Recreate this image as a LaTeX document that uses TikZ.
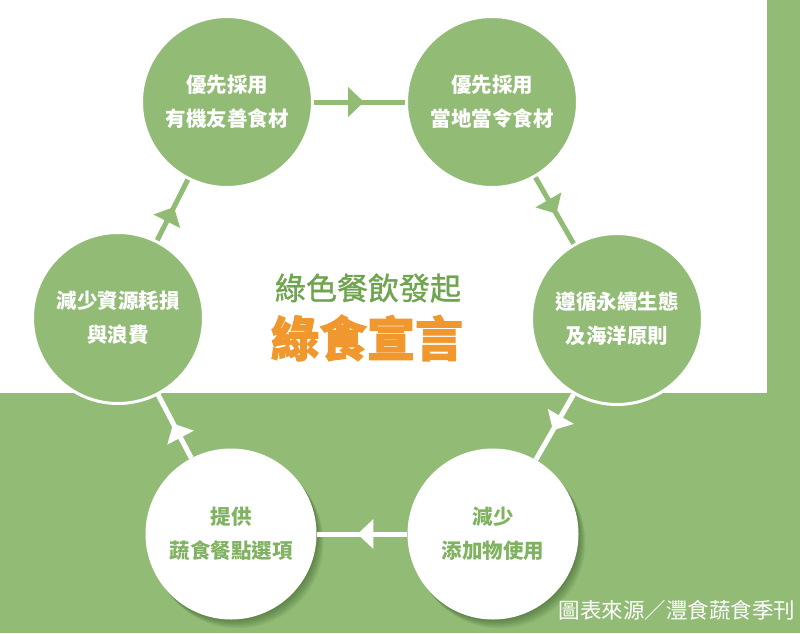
\documentclass[tikz,border=0pt]{standalone}
\usepackage{fontspec}
\setmainfont{Noto Sans CJK TC}
\newfontfamily\titlefont{Noto Sans CJK TC}[FakeBold=1.2]
\newfontfamily\headfont{Noto Sans CJK TC}[FakeBold=2]
\usetikzlibrary{arrows.meta,decorations.markings}
\definecolor{band}{RGB}{146,188,118}
\definecolor{circ}{RGB}{146,188,118}
\definecolor{titlegreen}{RGB}{112,165,80}
\definecolor{orng}{RGB}{240,152,45}
\definecolor{ctxt}{RGB}{128,178,98}
\definecolor{shad}{RGB}{35,65,20}
\begin{document}
\begin{tikzpicture}[x=1pt,y=-1pt,
  ctext/.style={font=\bfseries\fontsize{20.5}{34}\selectfont,align=center},
  gcirc/.style={circle,fill=circ,draw=white,line width=3pt,minimum size=171pt,inner sep=0pt,text=white,ctext},
  wcirc/.style={circle,fill=white,minimum size=171pt,inner sep=0pt,text=ctxt,ctext},
  conn/.style={line width=5pt,postaction={decorate},
    decoration={markings,mark=at position 0.55 with {\arrow{Triangle[length=16pt,width=29pt]}}}},
]
\useasboundingbox (0,0) rectangle (800,633);
\fill[white] (0,0) rectangle (800,633);
% green band
\fill[band] (0,393) rectangle (800,633);
\fill[band] (767,0) rectangle (800,393);

% shadows of white circles
\foreach \k in {1,...,10}{
  \fill[shad,opacity=0.05] (231+\k*0.7,534+\k*0.9) circle (85.5);
  \fill[shad,opacity=0.05] (493+\k*0.7,534+\k*0.9) circle (85.5);
}

% circles
\node[gcirc] (A) at (227,102) {優先採用\\有機友善食材};
\node[gcirc] (B) at (492,102) {優先採用\\當地當令食材};
\node[gcirc] (C) at (617,319) {遵循永續生態\\及海洋原則};
\node[wcirc] (D) at (493,534) {減少\\添加物使用};
\node[wcirc] (E) at (231,534) {提供\\蔬食餐點選項};
\node[gcirc] (F) at (118,318) {減少資源耗損\\與浪費};

% connectors
\draw[conn,circ] (A) -- (B);
\draw[conn,circ] (B) -- (C);
\draw[conn,white] (C) -- (D);
\draw[conn,white] (D) -- (E);
\draw[conn,white] (E) -- (F);
\draw[conn,circ] (F) -- (A);

% title
\node[font=\titlefont\fontsize{31}{31}\selectfont,text=titlegreen] (t1) at (368,288) {綠色餐飲發起};
\node[font=\headfont\bfseries\fontsize{48}{48}\selectfont,text=orng] (t2) at (367,338) {綠食宣言};

% source
\node[font=\fontsize{21.5}{22}\selectfont,text=white] (src) at (677,610) {圖表來源／灃食蔬食季刊};
\end{tikzpicture}
\end{document}
